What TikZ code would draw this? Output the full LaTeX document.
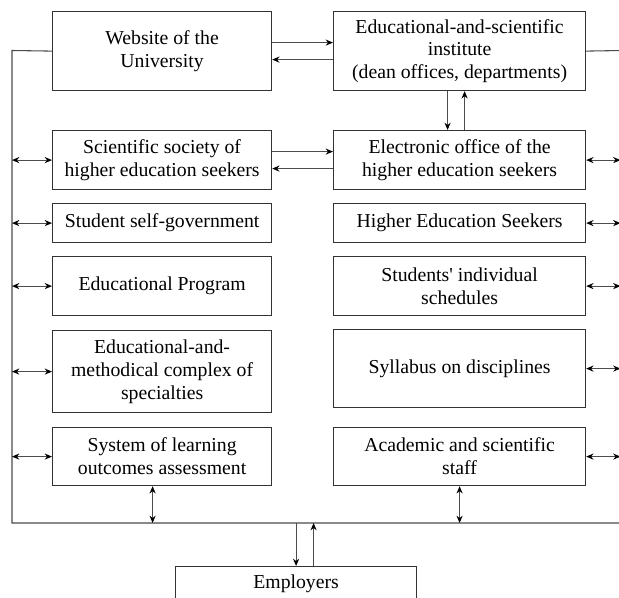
\documentclass[tikz,border=0pt]{standalone}
\usepackage{fontspec}
\setmainfont{Liberation Serif}
\usetikzlibrary{arrows.meta,calc}
\begin{document}
\begin{tikzpicture}[x=0.75pt,y=-0.75pt,
  box/.style={draw=black!80, line width=0.9pt, anchor=north west, align=center,
    inner sep=0pt, font=\fontsize{14.8}{17.2}\selectfont},
  lbox/.style={box, minimum width=164.25pt},
  rbox/.style={box, minimum width=189pt},
  link/.style={draw=black!70, line width=0.8pt},
  tip/.style={-{Stealth[length=5.5pt,width=4.6pt,color=black]}},
  both/.style={{Stealth[length=5.5pt,width=4.6pt,color=black]}-{Stealth[length=5.5pt,width=4.6pt,color=black]}}]
\fill[white] (0,0) rectangle (619,598);
\useasboundingbox (0,0) rectangle (619,598);

% left column
\node[lbox, minimum height=59.25pt] (web) at (52,11) {Website of the\\University};
\node[lbox, minimum height=44.25pt] (soc) at (52,130) {Scientific society of\\higher education seekers};
\node[lbox, minimum height=29.25pt] (self) at (52,203) {Student self-government};
\node[lbox, minimum height=44.25pt] (prog) at (52,256) {Educational Program};
\node[lbox, minimum height=61.5pt] (emc) at (52,330) {Educational-and-\\methodical complex of\\specialties};
\node[lbox, minimum height=43.5pt] (sys) at (52,427) {System of learning\\outcomes assessment};

% right column
\node[rbox, minimum height=59.25pt] (inst) at (333,11) {Educational-and-scientific\\institute\\(dean offices, departments)};
\node[rbox, minimum height=44.25pt] (office) at (333,130) {Electronic office of the\\higher education seekers};
\node[rbox, minimum height=29.25pt] (seek) at (333,203) {Higher Education Seekers};
\node[rbox, minimum height=44.25pt] (sched) at (333,256) {Students\textquotesingle\ individual\\schedules};
\node[rbox, minimum height=58.5pt] (syl) at (333,329) {Syllabus on disciplines};
\node[rbox, minimum height=43.5pt] (acad) at (333,427) {Academic and scientific\\staff};

% employers
\node[box, minimum width=180.75pt, minimum height=25.5pt] (emp) at (175,566) {Employers};

% common bus
\coordinate (nw) at (12,50.5);
\coordinate (sw) at (12,523);
\coordinate (se) at (622,523);
\coordinate (ne) at (622,50.5);
\coordinate (re) at (620.5,0);
\draw[link] (web.west) -- (nw) -- (sw) -- (se);
\draw[link] (inst.east) -- (ne);

% website <-> institute
\coordinate (w1) at ($(web.east)+(0,-8.5)$);
\coordinate (w2) at ($(web.east)+(0,8.5)$);
\draw[link,tip] (w1) -- (w1 -| inst.west);
\draw[link,tip] (w2 -| inst.west) -- (w2);

% society <-> electronic office
\coordinate (s1) at ($(soc.east)+(0,-8.5)$);
\coordinate (s2) at ($(soc.east)+(0,8.5)$);
\draw[link,tip] (s1) -- (s1 -| office.west);
\draw[link,tip] (s2 -| office.west) -- (s2);

% institute <-> electronic office
\coordinate (d1) at ($(inst.south)+(-12,0)$);
\coordinate (u1) at ($(inst.south)+(5,0)$);
\draw[link,tip] (d1) -- (d1 |- office.north);
\draw[link,tip] (u1 |- office.north) -- (u1);

% left column to bus
\foreach \n in {soc,self,prog,emc,sys}
  \draw[link,both] (\n.west -| nw) -- (\n.west);

% right column to bus
\foreach \n in {office,seek,sched,syl,acad}
  \draw[link,both] (\n.east) -- (\n.east -| re);

% bottom boxes to bus
\coordinate (b1) at ($(sys.south)+(-9.5,0)$);
\draw[link,both] (b1) -- (b1 |- sw);
\draw[link,both] (acad.south) -- (acad.south |- sw);

% bus <-> employers
\coordinate (e2) at ($(emp.north)+(17.5,0)$);
\draw[link,tip] (emp.north |- sw) -- (emp.north);
\draw[link,tip] (e2) -- (e2 |- sw);
\end{tikzpicture}
\end{document}
